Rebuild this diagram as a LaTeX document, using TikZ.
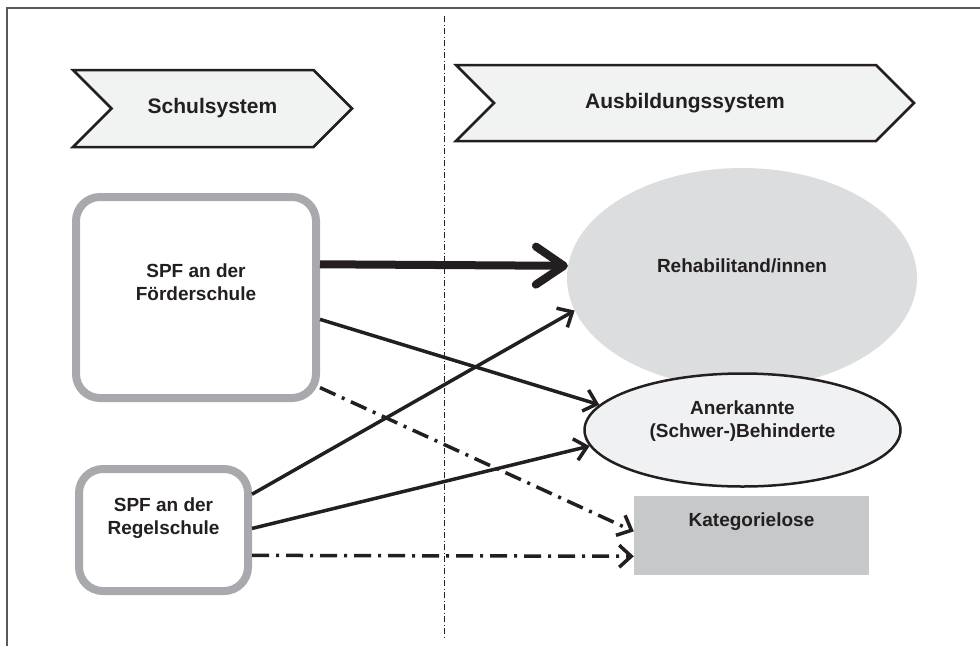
\documentclass[tikz,border=0pt]{standalone}
\usepackage{fontspec}
\setmainfont{Liberation Sans}
\usetikzlibrary{shapes.geometric,shapes.symbols,arrows.meta}

\definecolor{ink}{HTML}{231F20}
\definecolor{framegray}{HTML}{58595B}
\definecolor{chevfill}{HTML}{F1F2F2}
\definecolor{boxgray}{HTML}{A7A9AC}
\definecolor{rehafill}{HTML}{DCDDDF}
\definecolor{anerfill}{HTML}{F0F1F2}
\definecolor{katfill}{HTML}{C7C8CA}

\begin{document}
\begin{tikzpicture}[x=1pt,y=-1pt]
  \tikzset{header/.style = {shape=signal,signal from=west,signal to=east,draw=ink,fill=chevfill,line width=2.5pt,inner sep=0pt,text=ink,font=\fontsize{21}{25}\selectfont\bfseries}}
  \tikzset{school/.style = {shape=rectangle,rounded corners=24pt,draw=boxgray,line width=8pt,inner sep=0pt}}
  \tikzset{group/.style = {shape=ellipse,inner sep=0pt}}
  \tikzset{every label/.style = {text=ink,align=center,font=\fontsize{19}{23}\selectfont\bfseries}}
  \tikzset{big arrow/.style = {ink,line width=8pt,-{Straight Barb[length=28pt,width=38pt,round]}}}
  \tikzset{thin arrow/.style = {ink,line width=3.5pt,-{Straight Barb[length=12pt,width=22pt]}}}
  \tikzset{dash arrow/.style = {thin arrow,dash pattern=on 17pt off 7pt on 3pt off 7pt}}
  \useasboundingbox (0,0) rectangle (980,646);
	\draw[framegray,line width=2pt] (6.5,646) -- (6.5,8) -- (980,8);
	\coordinate (septop) at (444,16);
	\coordinate (sepbot) at (444,638);
	\draw[ink,line width=1pt,dash pattern=on 6pt off 2.5pt on 1pt off 2.5pt] (septop) -- (sepbot);

	\node[header,minimum width=279pt,minimum height=77pt] (schul) at (212.5,108.5) {Schulsystem};
	\node[header,minimum width=458pt,minimum height=76pt] (ausb) at (685,103) {Ausbildungssystem};

	\node[school,minimum width=240pt,minimum height=201pt][label={[yshift=15.5pt]center:SPF an der\\Förderschule}] (foerder) at (196,297.5) {};
	\node[school,minimum width=169pt,minimum height=122pt][label={[yshift=12pt]center:SPF an der\\Regelschule}] (regel) at (163.5,530) {};

	\node[group,fill=rehafill,minimum width=350pt,minimum height=220pt][label={[yshift=12pt]center:Rehabilitand/innen}] (reha) at (742,278) {};
	\node[group,draw=ink,line width=2.5pt,fill=anerfill,minimum width=316pt,minimum height=113pt][label={[yshift=9pt]center:Anerkannte\\(Schwer-)Behinderte}] (aner) at (742.5,430) {};
	\node[rectangle,fill=katfill,inner sep=0pt,minimum width=235pt,minimum height=79pt][label={[yshift=13.5pt]center:Kategorielose}] (kat) at (751.5,535.5) {};

	\draw[big arrow] (foerder.15) -- (reha.176);
    \foreach \from/\to in {foerder.350/aner.170,regel.22/reha.191,regel.1/aner.186}
    \path[thin arrow] (\from) edge (\to);
    \foreach \from/\to in {foerder.324/kat.178,regel.344/kat.190}
    \path[dash arrow] (\from) edge (\to);
\end{tikzpicture}
\end{document}
